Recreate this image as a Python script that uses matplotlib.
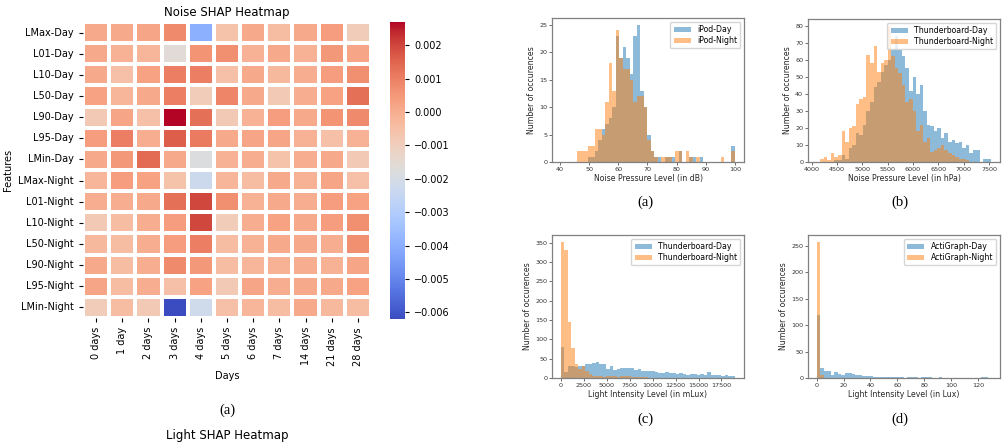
import numpy as np
import matplotlib
matplotlib.use("Agg")
import matplotlib.pyplot as plt
import seaborn as sns

W, H = 1007, 445
DPI = 100

# ---------------- Heatmap data ----------------
features = ["LMax-Day", "L01-Day", "L10-Day", "L50-Day", "L90-Day", "L95-Day", "LMin-Day",
            "LMax-Night", "L01-Night", "L10-Night", "L50-Night", "L90-Night", "L95-Night", "LMin-Night"]
days = ["0 days", "1 day", "2 days", "3 days", "4 days", "5 days", "6 days", "7 days",
        "14 days", "21 days", "28 days"]
shap_values = [
    [0.0001, 0.0001, 0.0002, 0.0008, -0.0040, -0.0006, 0.0001, -0.0004, 0.0001, 0.0004, -0.0009],
    [0.0001, -0.0001, -0.0002, -0.0016, 0.0006, 0.0007, -0.0001, 0.0001, -0.0001, 0.0005, 0.0002],
    [0.0001, -0.0005, 0.0003, 0.0010, 0.0010, -0.0005, 0.0001, -0.0003, 0.0000, 0.0004, 0.0007],
    [0.0003, -0.0002, 0.0001, 0.0010, -0.0009, 0.0009, 0.0001, -0.0008, 0.0000, 0.0003, 0.0013],
    [-0.0008, 0.0002, -0.0005, 0.0027, 0.0013, -0.0008, -0.0001, 0.0004, 0.0001, 0.0006, 0.0008],
    [0.0004, 0.0010, 0.0000, 0.0016, 0.0011, 0.0001, 0.0002, 0.0002, -0.0001, -0.0005, -0.0001],
    [0.0001, 0.0005, 0.0014, 0.0001, -0.0018, -0.0001, 0.0000, -0.0006, 0.0000, 0.0001, -0.0008],
    [-0.0002, 0.0004, 0.0003, -0.0006, -0.0023, -0.0002, -0.0004, 0.0001, -0.0001, 0.0002, -0.0005],
    [0.0000, 0.0000, 0.0001, 0.0013, 0.0020, 0.0007, -0.0001, 0.0001, 0.0000, 0.0004, 0.0003],
    [-0.0008, -0.0004, 0.0000, 0.0004, 0.0020, -0.0009, 0.0000, 0.0003, 0.0001, 0.0004, 0.0007],
    [-0.0003, -0.0004, 0.0000, 0.0004, 0.0010, -0.0004, -0.0001, 0.0001, 0.0001, 0.0000, 0.0007],
    [0.0001, -0.0004, 0.0000, 0.0008, 0.0005, -0.0004, -0.0002, -0.0001, 0.0000, -0.0001, 0.0002],
    [0.0002, -0.0004, 0.0000, -0.0005, 0.0003, -0.0008, 0.0002, 0.0000, 0.0001, 0.0001, 0.0003],
    [-0.0009, -0.0004, -0.0008, -0.0062, -0.0022, -0.0005, -0.0002, -0.0004, 0.0001, -0.0003, -0.0004],
]
cbar_ticks = [0.002, 0.001, 0.000, -0.001, -0.002, -0.003, -0.004, -0.005, -0.006]

# ---------------- Histogram data ----------------
# (a) iPod noise (dB)
ipod_edges = [40 + 1.2 * k for k in range(51)]
ipod_day = [0, 0, 0, 0, 0, 0, 0, 0, 1, 1, 2, 4, 6, 7, 8, 10, 23, 19, 21, 19, 16, 23, 25, 13, 10,
            5, 2, 1, 1, 0, 1, 1, 1, 0, 2, 0, 0, 1, 1, 0, 1, 0, 0, 0, 0, 0, 0, 0, 0, 3]
ipod_night = [0, 0, 0, 0, 0, 2, 2, 2, 3, 3, 6, 6, 5, 11, 18, 13, 24, 19, 17, 17, 15, 11, 12, 12, 10,
              4, 2, 1, 0, 1, 1, 1, 0, 2, 2, 0, 2, 1, 0, 1, 0, 0, 0, 0, 0, 0, 1, 0, 0, 2]
# (b) Thunderboard noise (hPa)
tbn_edges = [4170 + 70 * k for k in range(49)]
tbn_day = [0, 0, 0, 0, 1, 1, 4, 2, 8, 10, 17, 16, 22, 30, 35, 44, 47, 53, 57, 60, 66, 74, 66, 62,
           55, 42, 50, 40, 45, 30, 22, 21, 18, 20, 14, 17, 12, 13, 11, 12, 8, 10, 5, 7, 7, 0, 2, 2]
tbn_night = [2, 3, 1, 5, 3, 4, 18, 12, 20, 21, 34, 37, 38, 63, 58, 68, 53, 58, 60, 80, 62, 55, 52, 45,
             35, 37, 30, 18, 22, 12, 14, 6, 7, 8, 10, 7, 5, 4, 3, 2, 2, 1, 0, 0, 0, 0, 0, 0]
# (c) Thunderboard light (mLux)
tbl_edges = [380 * k for k in range(51)]
tbl_day = [80, 15, 32, 32, 28, 32, 32, 35, 37, 38, 42, 37, 35, 22, 32, 20, 23, 25, 27, 27, 25, 20, 22,
           17, 18, 17, 17, 15, 13, 13, 15, 12, 14, 10, 12, 10, 8, 10, 10, 8, 10, 7, 15, 8, 8, 7, 5, 7, 5, 5]
tbl_night = [352, 330, 145, 78, 35, 22, 32, 18, 10, 5, 6, 5, 3, 5, 5, 4, 3, 6, 5, 4, 3, 3, 2, 2, 2,
             1, 1, 1, 0, 1, 0, 0, 0, 0, 0, 0, 0, 0, 0, 0, 0, 0, 0, 0, 0, 0, 0, 0, 0, 0]
# (d) ActiGraph light (Lux)
act_edges = [2.6 * k for k in range(51)]
act_day = [120, 18, 13, 14, 5, 12, 7, 5, 10, 9, 7, 5, 5, 3, 3, 4, 1, 1, 1, 1, 1, 1, 1, 1, 1,
           0, 1, 1, 1, 0, 2, 2, 1, 0, 0, 1, 0, 0, 0, 0, 0, 0, 0, 0, 0, 0, 0, 1, 1, 0]
act_night = [258, 6] + [0] * 48

fig = plt.figure(figsize=(W / DPI, H / DPI), dpi=DPI)


def ax_px(l, t, r, b):
    return fig.add_axes([l / W, 1 - b / H, (r - l) / W, (b - t) / H])


# ---------------- Heatmap ----------------
hax = ax_px(83, 22, 371, 318)
cax = ax_px(390, 22, 405, 319)
sns.heatmap(np.array(shap_values), ax=hax, cbar_ax=cax, cmap="coolwarm",
            vmin=-0.0062, vmax=0.0027, linewidths=1.6, linecolor="white",
            xticklabels=days, yticklabels=features)
hax.set_title("Noise SHAP Heatmap", fontsize=8.5, pad=4)
hax.set_xlabel("Days", fontsize=7)
hax.set_ylabel("Features", fontsize=7)
hax.tick_params(axis="both", labelsize=7, length=3, width=0.8)
plt.setp(hax.get_xticklabels(), rotation=90)
plt.setp(hax.get_yticklabels(), rotation=0)
cax.set_yticks(cbar_ticks)
cax.set_yticklabels([f"{t:.3f}".replace("-", "\u2212") for t in cbar_ticks])
cax.tick_params(labelsize=7, length=3, width=0.8)
for s in cax.spines.values():
    s.set_visible(False)

fig.text(227 / W, 1 - 410 / H, "(a)", ha="center", va="center",
         fontsize=10.5, family="Liberation Serif")
fig.text(227 / W, 1 - 436 / H, "Light SHAP Heatmap", ha="center", va="center",
         fontsize=8.5)


# ---------------- Histograms ----------------
def centers(edges):
    e = np.asarray(edges, dtype=float)
    return (e[:-1] + e[1:]) / 2


def hist_panel(box, edges, day, night, labels, xlim, xticks, yticks, xlabel, caption, cap_xy):
    ax = ax_px(*box)
    c = centers(edges)
    ax.hist(c, bins=edges, weights=day, alpha=0.5, color="tab:blue", label=labels[0])
    ax.hist(c, bins=edges, weights=night, alpha=0.5, color="tab:orange", label=labels[1])
    ax.set_xlim(*xlim)
    ax.set_xticks(xticks)
    ax.set_yticks(yticks)
    ax.tick_params(labelsize=4.6, length=2, width=0.5, pad=1.5, colors="0.2")
    for s in ax.spines.values():
        s.set_color("0.5")
        s.set_linewidth(0.9)
    ax.set_xlabel(xlabel, fontsize=5.6, labelpad=1.5, color="0.15")
    ax.set_ylabel("Number of occurences", fontsize=5.6, labelpad=2, color="0.15")
    ax.legend(loc="upper right", fontsize=5.6, handlelength=2.2, borderpad=0.4,
              labelspacing=0.3, framealpha=0.8)
    fig.text(cap_xy[0] / W, 1 - cap_xy[1] / H, caption, ha="center", va="center",
             fontsize=10.5, family="Liberation Serif")
    return ax


hist_panel((552, 18, 744, 162), ipod_edges, ipod_day, ipod_night, ["iPod-Day", "iPod-Night"],
           (37.3, 103.1), list(range(40, 101, 10)), list(range(0, 26, 5)),
           "Noise Pressure Level (in dB)", "(a)", (645, 202))
hist_panel((808, 19, 1000, 162), tbn_edges, tbn_day, tbn_night,
           ["Thunderboard-Day", "Thunderboard-Night"],
           (3927, 7717), list(range(4000, 7501, 500)), list(range(0, 81, 10)),
           "Noise Pressure Level (in hPa)", "(b)", (900, 202))
hist_panel((552, 235, 744, 378), tbl_edges, tbl_day, tbl_night,
           ["Thunderboard-Day", "Thunderboard-Night"],
           (-950, 19950), list(range(0, 17501, 2500)), list(range(0, 351, 50)),
           "Light Intensity Level (in mLux)", "(c)", (645, 419))
hist_panel((808, 235, 1000, 378), act_edges, act_day, act_night,
           ["ActiGraph-Day", "ActiGraph-Night"],
           (-6.5, 136.5), list(range(0, 121, 20)), list(range(0, 251, 50)),
           "Light Intensity Level (in Lux)", "(d)", (900, 419))

fig.savefig("out.png", dpi=DPI)
